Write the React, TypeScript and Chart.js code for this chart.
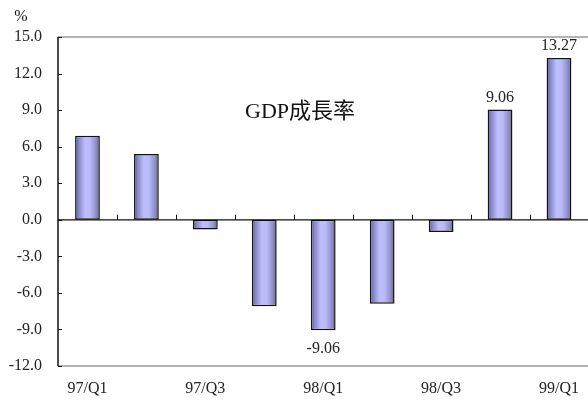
import React, { useEffect, useRef } from "react";
import { Chart, registerables } from "chart.js";

Chart.register(...registerables);

const categories = ["97/Q1", "97/Q2", "97/Q3", "97/Q4", "98/Q1", "98/Q2", "98/Q3", "98/Q4", "99/Q1"];
const growth = [6.9, 5.4, -0.8, -7.1, -9.06, -6.9, -1.0, 9.06, 13.27];
const valueLabels = ["", "", "", "", "-9.06", "", "", "9.06", "13.27"];
const yTicks = [-12, -9, -6, -3, 0, 3, 6, 9, 12, 15];
const chartTitle = "GDP成長率";
const unitLabel = "%";

const SERIF = "'Liberation Serif', 'Times New Roman', serif";
const CJK = "'Liberation Serif', 'Noto Sans CJK TC', serif";

const decoPlugin = {
  id: "deco",
  beforeDatasetsDraw(chart: any) {
    const { ctx, chartArea } = chart;
    const ys = chart.scales.y;
    const xs = chart.scales.x;
    const { left, right, top, bottom } = chartArea;
    ctx.save();
    ctx.strokeStyle = "#9a9a9a";
    ctx.lineWidth = 1.5;
    ctx.beginPath();
    ctx.moveTo(left, top);
    ctx.lineTo(right, top);
    ctx.moveTo(left, bottom);
    ctx.lineTo(right, bottom);
    ctx.stroke();
    ctx.strokeStyle = "#111";
    ctx.lineWidth = 1;
    ctx.beginPath();
    yTicks.forEach((v) => {
      const y = Math.round(ys.getPixelForValue(v)) + 0.5;
      ctx.moveTo(left, y);
      ctx.lineTo(left + 4, y);
    });
    ctx.stroke();
    const zy = ys.getPixelForValue(0);
    const n = categories.length;
    const cw = (right - left) / n;
    ctx.beginPath();
    for (let i = 1; i < n; i++) {
      const x = Math.round(xs.getPixelForValue(i) - cw / 2) + 0.5;
      ctx.moveTo(x, zy);
      ctx.lineTo(x, zy - 5);
    }
    ctx.stroke();
    ctx.restore();
  },
  afterDatasetsDraw(chart: any) {
    const { ctx, chartArea } = chart;
    const ys = chart.scales.y;
    const { left, right, top, bottom } = chartArea;
    ctx.save();
    const zy = ys.getPixelForValue(0);
    ctx.strokeStyle = "#111";
    ctx.lineWidth = 1.2;
    ctx.beginPath();
    ctx.moveTo(left, zy);
    ctx.lineTo(right, zy);
    ctx.stroke();
    ctx.lineWidth = 1.5;
    ctx.beginPath();
    ctx.moveTo(left, top);
    ctx.lineTo(left, bottom);
    ctx.stroke();
    const meta = chart.getDatasetMeta(0);
    ctx.fillStyle = "#222";
    ctx.font = `16px ${SERIF}`;
    ctx.textAlign = "center";
    ctx.textBaseline = "middle";
    meta.data.forEach((el: any, i: number) => {
      const t = valueLabels[i];
      if (!t) return;
      const v = growth[i];
      const y = v >= 0 ? el.y - 12 : el.y + 19;
      ctx.fillText(t, el.x, y);
    });
    ctx.font = `22px ${CJK}`;
    ctx.fillStyle = "#111";
    ctx.fillText(chartTitle, 300, 112);
    ctx.font = `16px ${SERIF}`;
    ctx.fillText(unitLabel, 21, 17);
    ctx.restore();
  },
};

export default function App() {
  const ref = useRef<HTMLCanvasElement>(null);
  useEffect(() => {
    document.body.style.margin = "0";
    const canvas = ref.current!;
    const chart = new Chart(canvas, {
      type: "bar",
      data: {
        labels: categories,
        datasets: [
          {
            data: growth,
            backgroundColor: (c: any) => {
              const ch = c.chart;
              const xs = ch.scales && ch.scales.x;
              if (!xs || !ch.chartArea || c.dataIndex === undefined) return "#b0b0f0";
              const cx = xs.getPixelForValue(c.dataIndex);
              const w = ((ch.chartArea.right - ch.chartArea.left) / categories.length) * 0.42;
              const g = ch.ctx.createLinearGradient(cx - w / 2, 0, cx + w / 2, 0);
              g.addColorStop(0, "#55557f");
              g.addColorStop(0.15, "#8888c8");
              g.addColorStop(0.4, "#bebefe");
              g.addColorStop(0.6, "#babafa");
              g.addColorStop(0.85, "#8e8ec8");
              g.addColorStop(1, "#606090");
              return g;
            },
            borderColor: "#111",
            borderWidth: 1.5,
            borderSkipped: false,
            barPercentage: 0.42,
            categoryPercentage: 1,
          },
        ],
      },
      options: {
        animation: false,
        responsive: false,
        devicePixelRatio: 1,
        layout: { padding: { top: 37, left: 0, right: 0, bottom: 0 } },
        plugins: { legend: { display: false }, tooltip: { enabled: false }, title: { display: false } },
        scales: {
          x: {
            offset: true,
            grid: { display: false, drawTicks: false },
            border: { display: false },
            ticks: {
              autoSkip: false,
              maxRotation: 0,
              padding: 13,
              color: "#222",
              font: { family: SERIF, size: 16 },
              callback: (_v: any, i: number) => (i % 2 === 0 ? categories[i] : ""),
            },
            afterFit: (s: any) => {
              s.height = 38;
            },
          },
          y: {
            min: -12,
            max: 15,
            grid: { display: false, drawTicks: false },
            border: { display: false },
            afterBuildTicks: (s: any) => {
              s.ticks = yTicks.map((v) => ({ value: v }));
            },
            ticks: {
              padding: 16,
              color: "#222",
              font: { family: SERIF, size: 16 },
              callback: (v: any) => Number(v).toFixed(1),
            },
            afterFit: (s: any) => {
              s.width = 58;
            },
          },
        },
      },
      plugins: [decoPlugin],
    } as any);
    return () => chart.destroy();
  }, []);
  return (
    <div style={{ width: 588, height: 404, overflow: "hidden", position: "relative" }}>
      <canvas ref={ref} width={592} height={404} style={{ display: "block" }} />
    </div>
  );
}
